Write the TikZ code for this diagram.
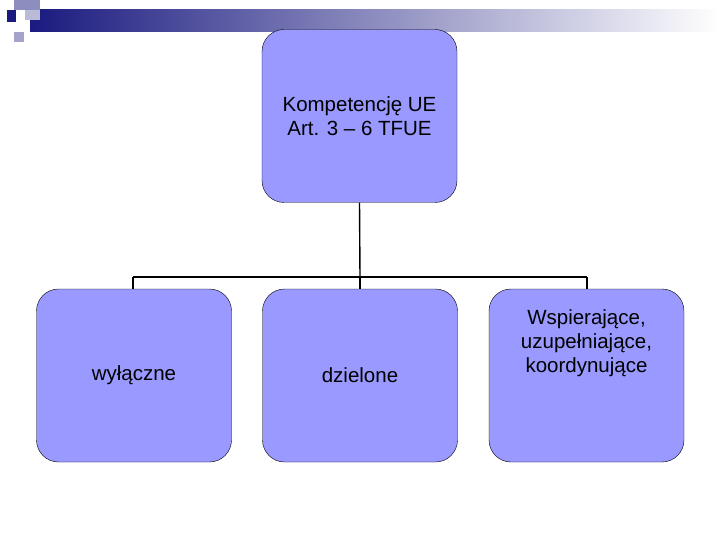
\documentclass[tikz,border=0pt]{standalone}
\usepackage{fontspec}
\setmainfont{Liberation Sans}
\begin{document}
\begin{tikzpicture}[x=1pt,y=-1pt,
  box/.style={draw=black,fill=boxfill,rounded corners=22pt,minimum width=195pt,minimum height=173pt,align=center,font=\fontsize{20.5pt}{24pt}\selectfont},
  conn/.style={draw=black,line width=1.4pt}]
\definecolor{boxfill}{HTML}{9999FF}
\definecolor{navy}{HTML}{1A1A80}
\useasboundingbox (0,0) rectangle (720,540);
\shade[left color=navy,right color=white] (30,10) rectangle (720,32);
\fill[navy!50!white] (14,0) rectangle (40,10);
\fill[navy!30!white] (25,10) rectangle (40,20);
\fill[navy!40!white] (14,32) rectangle (24,42);
\fill[navy] (7,10) rectangle (16,22);
\node[box] (top) at (359.5,116) {Kompetencję UE\\Art. 3 – 6 TFUE};
\node[box] (a) at (134,375.5) {wyłączne};
\node[box] (b) at (360,375.5) {dzielone};
\node[box] (c) at (586.5,375.5) {Wspierające,\\uzupełniające,\\koordynujące\\[44pt]};
\coordinate (j) at (360,277);
\coordinate (jl) at (133,277);
\coordinate (jr) at (587,277);
\draw[conn] (top.south) -- (j);
\draw[conn] (jl) -- (jr);
\draw[conn] (jl) -- (jl |- a.north);
\draw[conn] (j) -- (b.north);
\draw[conn] (jr) -- (jr |- c.north);
\end{tikzpicture}
\end{document}
